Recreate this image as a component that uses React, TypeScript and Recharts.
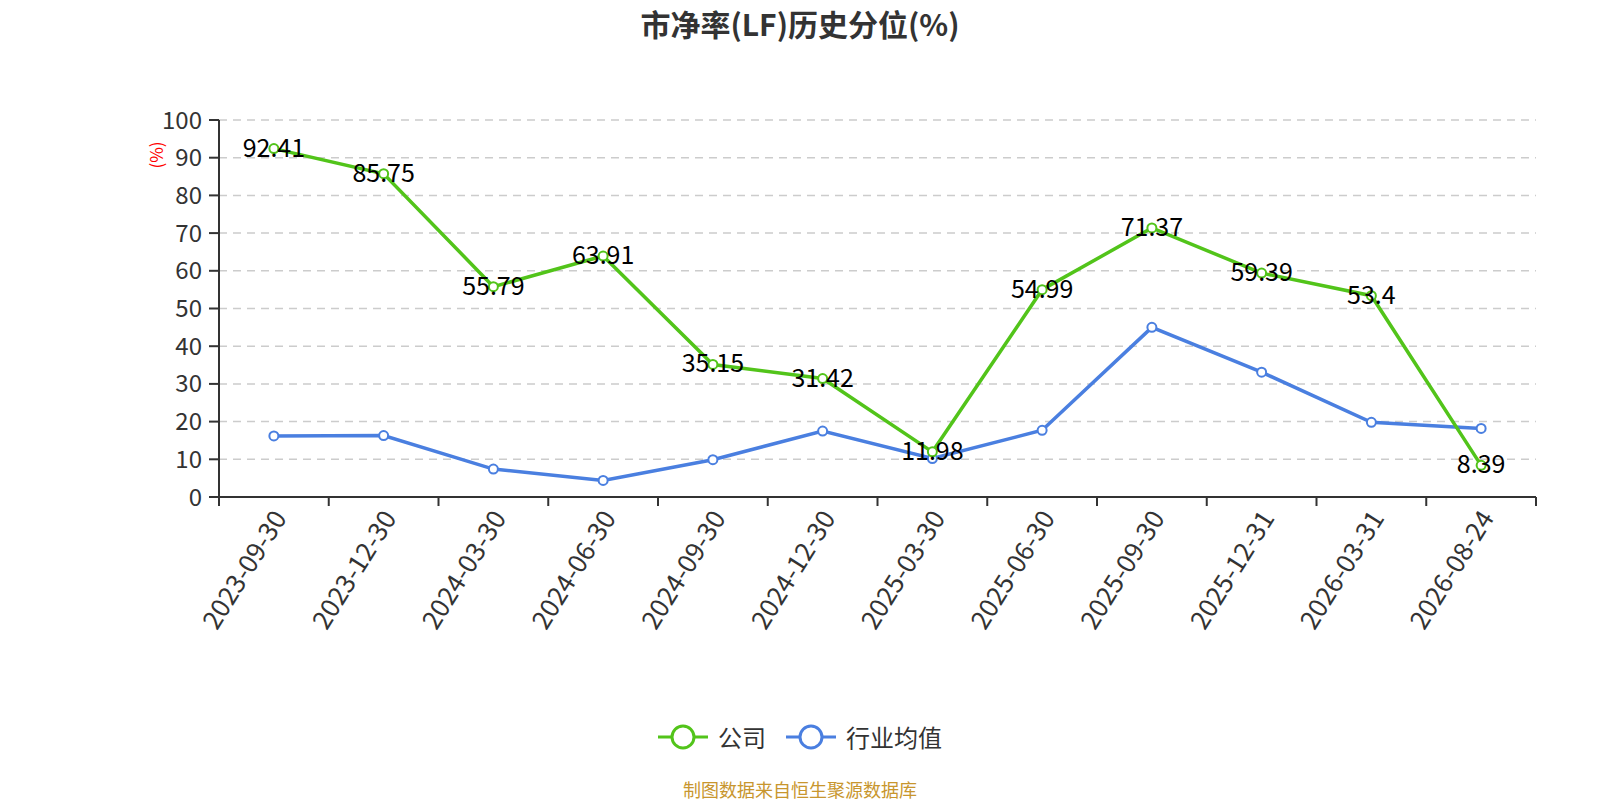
import React from "react";
import { LineChart, Line, XAxis, YAxis, CartesianGrid } from "recharts";

const dates = [
  "2023-09-30", "2023-12-30", "2024-03-30", "2024-06-30", "2024-09-30", "2024-12-30",
  "2025-03-30", "2025-06-30", "2025-09-30", "2025-12-31", "2026-03-31", "2026-08-24",
];
const companyValues = [92.41, 85.75, 55.79, 63.91, 35.15, 31.42, 11.98, 54.99, 71.37, 59.39, 53.4, 8.39];
const industryValues = [16.2, 16.3, 7.4, 4.4, 9.9, 17.5, 10.2, 17.7, 45.0, 33.1, 19.8, 18.2];
const yTicks = [0, 10, 20, 30, 40, 50, 60, 70, 80, 90, 100];

const seriesNames = { company: "公司", industry: "行业均值" };
const titleText = "市净率(LF)历史分位(%)";
const unitText = "(%)";
const sourceText = "制图数据来自恒生聚源数据库";

const data = dates.map((d, i) => ({ date: d, company: companyValues[i], industry: industryValues[i] }));

const W = 1600;
const H = 800;
const PLOT_LEFT = 219;
const PLOT_RIGHT = 1536;
const PLOT_TOP = 120;
const PLOT_BOTTOM = 497;
const BAND = (PLOT_RIGHT - PLOT_LEFT) / dates.length;
const GREEN = "#52c41a";
const BLUE = "#4a7fe0";
const FONT = "'Microsoft YaHei', 'Noto Sans CJK SC', sans-serif";

const XTick = (props: any) => {
  const { x, y, payload, index } = props;
  const isLast = index === dates.length - 1;
  const tx = x + 4;
  const ty = y + 15;
  return (
    <g>
      <line x1={x - BAND / 2} y1={y} x2={x - BAND / 2} y2={y + 9} stroke="#333" strokeWidth={2} />
      {isLast && <line x1={x + BAND / 2} y1={y} x2={x + BAND / 2} y2={y + 9} stroke="#333" strokeWidth={2} />}
      <text
        x={tx}
        y={ty}
        textAnchor="end"
        dominantBaseline="central"
        transform={`rotate(-58 ${tx} ${ty})`}
        fontSize={26}
        fill="#333"
        fontFamily={FONT}
      >
        {payload.value}
      </text>
    </g>
  );
};

const DataLabel = (props: any) => {
  const { x, y, value } = props;
  return (
    <text x={x} y={y - 3} textAnchor="middle" dominantBaseline="central" fontSize={25} fill="#000" fontFamily={FONT}>
      {value}
    </text>
  );
};

const LegendIcon = ({ color }: { color: string }) => (
  <svg width={50} height={28} style={{ display: "block" }}>
    <line x1={0} y1={14} x2={50} y2={14} stroke={color} strokeWidth={3} />
    <circle cx={25} cy={14} r={11} fill="#fff" stroke={color} strokeWidth={3} />
  </svg>
);

export default function App() {
  return (
    <div style={{ position: "absolute", left: 0, top: 0, width: W, height: H, background: "#fff", fontFamily: FONT }}>
      <LineChart
        width={W}
        height={H}
        data={data}
        margin={{ top: PLOT_TOP, right: W - PLOT_RIGHT, left: 0, bottom: 0 }}
      >
        <CartesianGrid vertical={false} stroke="#ccc" strokeDasharray="8 6" strokeWidth={1.5} />
        <XAxis
          dataKey="date"
          interval={0}
          height={H - PLOT_BOTTOM}
          padding={{ left: BAND / 2, right: BAND / 2 }}
          tickLine={false}
          tickSize={0}
          tickMargin={0}
          axisLine={{ stroke: "#333", strokeWidth: 2 }}
          tick={<XTick />}
        />
        <YAxis
          width={PLOT_LEFT}
          domain={[0, 100]}
          ticks={yTicks}
          interval={0}
          tickSize={10}
          tickMargin={7}
          axisLine={{ stroke: "#333", strokeWidth: 2 }}
          tickLine={{ stroke: "#333", strokeWidth: 2 }}
          tick={{ fontSize: 24, fill: "#333", fontFamily: FONT }}
        />
        <Line
          type="linear"
          dataKey="industry"
          stroke={BLUE}
          strokeWidth={3.5}
          dot={{ r: 4.5, fill: "#fff", stroke: BLUE, strokeWidth: 2 }}
          isAnimationActive={false}
        />
        <Line
          type="linear"
          dataKey="company"
          stroke={GREEN}
          strokeWidth={3.5}
          dot={{ r: 4.5, fill: "#fff", stroke: GREEN, strokeWidth: 2 }}
          label={<DataLabel />}
          isAnimationActive={false}
        />
      </LineChart>

      <div
        style={{
          position: "absolute",
          left: 0,
          top: 4,
          width: W,
          textAlign: "center",
          fontSize: 30,
          fontWeight: "bold",
          color: "#333",
          lineHeight: "38px",
        }}
      >
        {titleText}
      </div>

      <div
        style={{
          position: "absolute",
          left: 156 - 20,
          top: 155 - 12,
          width: 40,
          height: 24,
          lineHeight: "24px",
          textAlign: "center",
          fontSize: 17,
          color: "#f00",
          transform: "rotate(-90deg)",
        }}
      >
        {unitText}
      </div>

      <div
        style={{
          position: "absolute",
          left: 0,
          top: 722,
          width: W,
          display: "flex",
          justifyContent: "center",
          alignItems: "center",
          fontSize: 24,
          color: "#333",
          lineHeight: "30px",
        }}
      >
        <div style={{ display: "flex", alignItems: "center", marginRight: 20 }}>
          <LegendIcon color={GREEN} />
          <span style={{ marginLeft: 10 }}>{seriesNames.company}</span>
        </div>
        <div style={{ display: "flex", alignItems: "center" }}>
          <LegendIcon color={BLUE} />
          <span style={{ marginLeft: 10 }}>{seriesNames.industry}</span>
        </div>
      </div>

      <div
        style={{
          position: "absolute",
          left: 0,
          top: 778,
          width: W,
          textAlign: "center",
          fontSize: 18,
          color: "#c8962e",
          lineHeight: "22px",
        }}
      >
        {sourceText}
      </div>
    </div>
  );
}
